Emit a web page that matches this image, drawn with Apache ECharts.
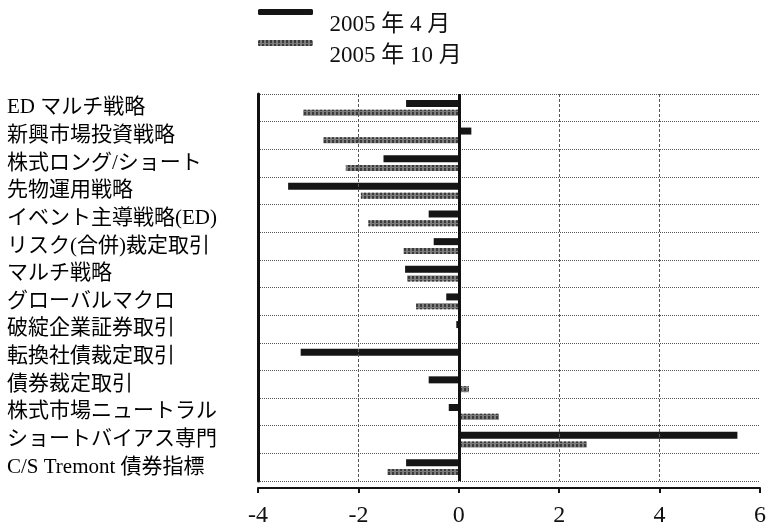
<!DOCTYPE html>
<html>
<head>
<meta charset="utf-8">
<script src="https://cdn.jsdelivr.net/npm/echarts@6/dist/echarts.min.js"></script>
<style>
  html, body { margin: 0; padding: 0; background: #fff; }
  #chart { width: 772px; height: 528px; }
</style>
</head>
<body>
<div id="chart"></div>
<script>
// ヘッジファンド戦略別（単位なし）
var categories = [
  'ED マルチ戦略', '新興市場投資戦略', '株式ロング/ショート', '先物運用戦略',
  'イベント主導戦略(ED)', 'リスク(合併)裁定取引', 'マルチ戦略', 'グローバルマクロ',
  '破綻企業証券取引', '転換社債裁定取引', '債券裁定取引', '株式市場ニュートラル',
  'ショートバイアス専門', 'C/S Tremont 債券指標'
];
var seriesNames = ['2005 年 4 月', '2005 年 10 月'];
var apr2005 = [-1.05, 0.25, -1.5, -3.4, -0.6, -0.5, -1.07, -0.25, -0.05, -3.15, -0.6, -0.2, 5.55, -1.05];
var oct2005 = [-3.1, -2.7, -2.25, -1.95, -1.8, -1.1, -1.03, -0.85, 0, 0, 0.2, 0.8, 2.55, -1.42];
var xTicks = { min: -4, max: 6, interval: 2 };
var dashedLines = [-2, 2, 4];
var zeroLine = 0;

var serif = "'Liberation Serif', 'Noto Sans CJK JP', serif";

var chart = echarts.init(document.getElementById('chart'));

// 凡例は記号の右下に文字が来るので、空行を頭に足してずらす
function legendFor(name, top) {
  return {
    data: [name],
    left: 258,
    top: top,
    padding: 0,
    itemWidth: 55,
    itemHeight: 6,
    itemGap: 0,
    formatter: function (n) { return '\n  ' + n; },
    textStyle: {
      fontFamily: serif,
      fontSize: 23,
      lineHeight: 26,
      color: '#111'
    }
  };
}

var option = {
  animation: false,
  backgroundColor: '#fff',
  legend: [legendFor(seriesNames[0], -14), legendFor(seriesNames[1], 17)],
  grid: { left: 258, right: 12, top: 94, bottom: 46 },
  xAxis: {
    type: 'value',
    min: xTicks.min,
    max: xTicks.max,
    interval: xTicks.interval,
    offset: 7,
    axisLine: { show: true, lineStyle: { color: '#111', width: 2 } },
    axisTick: { show: true, length: 5, lineStyle: { color: '#111', width: 2 } },
    axisLabel: { fontFamily: serif, fontSize: 24, color: '#111', margin: 16 },
    splitLine: { show: false }
  },
  yAxis: {
    type: 'category',
    data: categories,
    inverse: true,
    axisLine: { show: true, onZero: false, lineStyle: { color: '#111', width: 3 } },
    axisTick: { show: false },
    axisLabel: {
      fontFamily: serif,
      fontSize: 21,
      color: '#000',
      align: 'left',
      margin: 251
    },
    splitLine: { show: true, lineStyle: { color: '#555', width: 1, type: 'dotted' } }
  },
  series: [
    {
      name: seriesNames[0],
      type: 'bar',
      data: apr2005,
      barWidth: 7,
      barGap: '40%',
      itemStyle: { color: '#151515' },
      markLine: {
        silent: true,
        symbol: 'none',
        label: { show: false },
        lineStyle: { color: '#111', width: 3, type: 'solid' },
        data: [{ xAxis: zeroLine }]
      }
    },
    {
      name: seriesNames[1],
      type: 'bar',
      data: oct2005,
      barWidth: 6,
      itemStyle: {
        color: '#7d7d7d',
        decal: {
          symbol: 'rect',
          symbolSize: 1,
          color: '#3a3a3a',
          dashArrayX: [2, 2],
          dashArrayY: [3, 1],
          rotation: 0
        }
      },
      markLine: {
        silent: true,
        symbol: 'none',
        label: { show: false },
        lineStyle: { color: '#555', width: 1, type: [3, 2] },
        data: dashedLines.map(function (v) { return { xAxis: v }; })
      }
    }
  ]
};

chart.setOption(option);
</script>
</body>
</html>
